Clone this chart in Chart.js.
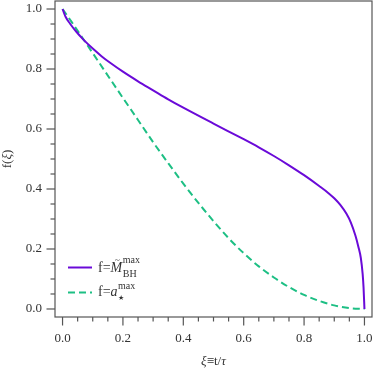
<!DOCTYPE html>
<html><head><meta charset="utf-8">
<script src="https://cdn.jsdelivr.net/npm/chart.js@4"></script>
<style>html,body{margin:0;padding:0;background:#fff}#wrap{width:374px;height:371px;position:relative}</style>
</head><body><div id="wrap"><canvas id="c"></canvas></div>
<script>
// ---- data ----
const xiMass = [0, 0.01, 0.025, 0.045, 0.07, 0.1, 0.13, 0.16, 0.2, 0.25, 0.3, 0.35, 0.4, 0.5, 0.6, 0.65, 0.7, 0.75, 0.8, 0.85, 0.88, 0.9, 0.92, 0.94, 0.955, 0.97, 0.98, 0.988, 0.994, 0.997, 1.0];
const fMass  = [1, 0.974, 0.951, 0.925, 0.897, 0.868, 0.842, 0.819, 0.791, 0.759, 0.729, 0.699, 0.671, 0.618, 0.566, 0.539, 0.51, 0.479, 0.446, 0.41, 0.387, 0.369, 0.347, 0.318, 0.288, 0.245, 0.207, 0.17, 0.117, 0.072, 0.0];
const xiSpin = [0, 0.03, 0.063, 0.09, 0.14, 0.195, 0.25, 0.3, 0.35, 0.4, 0.465, 0.55, 0.6, 0.65, 0.7, 0.75, 0.8, 0.85, 0.9, 0.95, 1.0];
const fSpin  = [1, 0.957, 0.908, 0.868, 0.793, 0.711, 0.63, 0.556, 0.486, 0.418, 0.335, 0.236, 0.186, 0.142, 0.105, 0.073, 0.047, 0.027, 0.012, 0.003, 0.0];
const majorTicks = [0, 0.2, 0.4, 0.6, 0.8, 1.0];
const minorTicks = [0.05, 0.1, 0.15, 0.25, 0.3, 0.35, 0.45, 0.5, 0.55, 0.65, 0.7, 0.75, 0.85, 0.9, 0.95];
const tickLabels = ['0.0', '0.2', '0.4', '0.6', '0.8', '1.0'];
const seriesNames = ['f=M̃BHmax', 'f=a⋆max'];

const PURPLE = '#6a0ad8';
const GREEN = '#1dbf84';
const AXIS = '#555555';
const SERIF = '"Liberation Serif", "DejaVu Serif", serif';

const allTicks = majorTicks.concat(minorTicks).sort((a, b) => a - b);
function isMajor(v) { return majorTicks.some(m => Math.abs(m - v) < 1e-9); }
function labelFor(v) { const i = majorTicks.findIndex(m => Math.abs(m - v) < 1e-9); return i >= 0 ? tickLabels[i] : ''; }

const massPts = xiMass.map((x, i) => ({x, y: fMass[i]}));
const spinPts = xiSpin.map((x, i) => ({x, y: fSpin[i]}));

function noPad(s) { s.paddingLeft = 0; s.paddingRight = 0; s.paddingTop = 0; s.paddingBottom = 0; }

const decor = {
  id: 'decor',
  afterDraw(chart) {
    const ctx = chart.ctx, a = chart.chartArea;
    const xs = chart.scales.x, ys = chart.scales.y;
    ctx.save();
    ctx.strokeStyle = AXIS; ctx.lineWidth = 1.2;
    ctx.strokeRect(a.left, a.top, a.right - a.left, a.bottom - a.top);
    allTicks.forEach(v => {
      const len = isMajor(v) ? 8.5 : 4.5;
      const px = xs.getPixelForValue(v);
      ctx.beginPath(); ctx.moveTo(px, a.bottom); ctx.lineTo(px, a.bottom + len); ctx.stroke();
      const py = ys.getPixelForValue(v);
      ctx.beginPath(); ctx.moveTo(a.left, py); ctx.lineTo(a.left - len, py); ctx.stroke();
    });
    ctx.fillStyle = '#333';
    ctx.textBaseline = 'middle';
    const fN = '13px ' + SERIF, fI = 'italic 13px ' + SERIF;
    function runs(parts) {
      let w = 0;
      parts.forEach(p => { ctx.font = p[1]; w += ctx.measureText(p[0]).width; });
      return w;
    }
    function drawRuns(parts, x0, y) {
      let x = x0;
      parts.forEach(p => { ctx.font = p[1]; ctx.textAlign = 'left'; ctx.fillText(p[0], x, y); x += ctx.measureText(p[0]).width; });
    }
    const xt = [['ξ', fI], ['≡t/', fN], ['τ', fI]];
    const cx = (a.left + a.right) / 2;
    drawRuns(xt, cx - runs(xt) / 2, 362);
    const yt = [['f(', fN], ['ξ', fI], [')', fN]];
    ctx.save();
    ctx.translate(8, (a.top + a.bottom) / 2);
    ctx.rotate(-Math.PI / 2);
    drawRuns(yt, -runs(yt) / 2, 0);
    ctx.restore();
    // legend
    ctx.lineWidth = 2;
    ctx.strokeStyle = PURPLE; ctx.setLineDash([]);
    ctx.beginPath(); ctx.moveTo(68, 267.5); ctx.lineTo(92, 267.5); ctx.stroke();
    ctx.strokeStyle = GREEN; ctx.setLineDash([7, 4]);
    ctx.beginPath(); ctx.moveTo(68, 292.5); ctx.lineTo(92, 292.5); ctx.stroke();
    ctx.setLineDash([]);
    ctx.textBaseline = 'alphabetic'; ctx.textAlign = 'left';
    ctx.fillStyle = '#333';
    const fL = '14px ' + SERIF, fLI = 'italic 14px ' + SERIF, fS = '10px ' + SERIF;
    ctx.font = fL; ctx.fillText('f=', 98, 272);
    let x = 98 + ctx.measureText('f=').width;
    ctx.font = fLI; ctx.fillText('M', x, 272);
    const mw = ctx.measureText('M').width;
    ctx.font = '9px ' + SERIF; ctx.textAlign = 'center'; ctx.fillText('~', x + mw / 2 + 1, 263);
    ctx.textAlign = 'left';
    x += mw + 0.5;
    ctx.font = fS; ctx.fillText('max', x, 263); ctx.fillText('BH', x, 276.5);
    ctx.font = fL; ctx.fillText('f=', 98, 296);
    x = 98 + ctx.measureText('f=').width;
    ctx.font = fLI; ctx.fillText('a', x, 296);
    x += ctx.measureText('a').width + 0.5;
    ctx.font = fS; ctx.fillText('max', x, 289);
    ctx.font = '7px "DejaVu Sans"'; ctx.fillText('★', x, 300);
    ctx.restore();
  }
};

new Chart(document.getElementById('c'), {
  type: 'scatter',
  data: {
    datasets: [
      { label: seriesNames[0], data: massPts, showLine: true, borderColor: PURPLE, borderWidth: 2, pointRadius: 0, cubicInterpolationMode: 'monotone', fill: false },
      { label: seriesNames[1], data: spinPts, showLine: true, borderColor: GREEN, borderWidth: 2, borderDash: [7, 4], pointRadius: 0, cubicInterpolationMode: 'monotone', fill: false }
    ]
  },
  options: {
    responsive: true, maintainAspectRatio: false, animation: false,
    layout: { padding: { top: 1, right: 2, left: 0, bottom: 0 } },
    plugins: { legend: { display: false }, tooltip: { enabled: false } },
    scales: {
      x: {
        type: 'linear', min: -0.025, max: 1.025,
        afterBuildTicks(s) { s.ticks = allTicks.map(v => ({value: v})); },
        afterFit(s) { s.height = 54; noPad(s); },
        grid: { display: false, drawTicks: false }, border: { display: false },
        ticks: { autoSkip: false, maxRotation: 0, padding: 14, color: '#333', font: { family: SERIF, size: 13 }, callback: v => labelFor(v) }
      },
      y: {
        type: 'linear', min: -0.0267, max: 1.0267,
        afterBuildTicks(s) { s.ticks = allTicks.map(v => ({value: v})); },
        afterFit(s) { s.width = 55; noPad(s); },
        grid: { display: false, drawTicks: false }, border: { display: false },
        ticks: { autoSkip: false, padding: 13, color: '#333', font: { family: SERIF, size: 13 }, callback: v => labelFor(v) }
      }
    }
  },
  plugins: [decor]
});
</script>
</body></html>
